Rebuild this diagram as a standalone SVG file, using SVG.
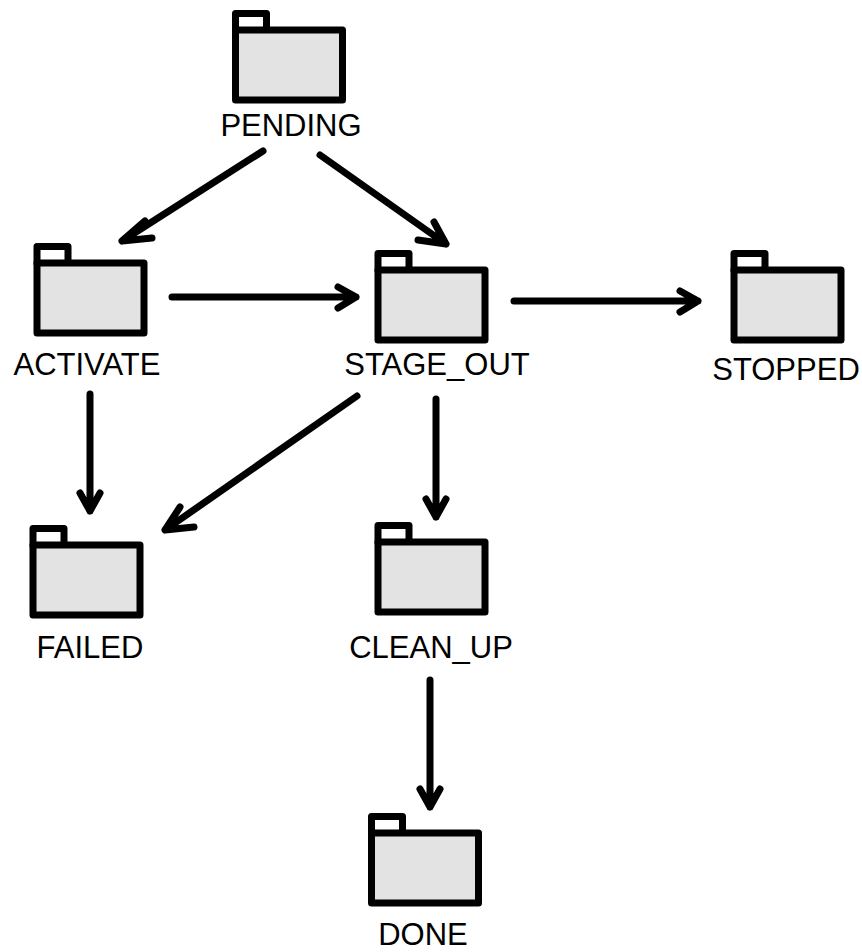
<svg xmlns="http://www.w3.org/2000/svg" width="862" height="952" viewBox="0 0 862 952">
<style>
.tab{fill:#fff;stroke:#000;stroke-width:7;stroke-linejoin:round}
.body{fill:#e3e3e3;stroke:#000;stroke-width:7;stroke-linejoin:round}
.lbl{font-family:"Liberation Sans",Arial,sans-serif;font-size:31px;fill:#000;text-anchor:middle}
.c{fill:none;stroke:#000;stroke-width:7;stroke-linecap:round;stroke-linejoin:round}
</style>
<defs>
<g id="folder">
<rect class="tab" x="3.5" y="3.5" width="31" height="17"/>
<rect class="body" x="3.5" y="20" width="107" height="70"/>
</g>
</defs>
<rect width="862" height="952" fill="#fff"/>
<g id="connectors">
<path class="c" d="M263 151L122 241M145 221L122 241L152 238"/>
<path class="c" d="M320 155L446 244M418 240L446 244L434 222"/>
<path class="c" d="M172 297L356 297M338 287L356 297L338 308"/>
<path class="c" d="M514 301L698 301M680 291L698 301L680 312"/>
<path class="c" d="M90 394L90 511M80 493L90 511L100 493"/>
<path class="c" d="M357 396L165 530M194 527L165 530L180 507"/>
<path class="c" d="M436 399L436 517M426 499L436 517L446 499"/>
<path class="c" d="M430 680L430 807M420 789L430 807L440 789"/>
</g>
<g id="PENDING"><use href="#folder" x="232" y="10"/><text class="lbl" x="291" y="136">PENDING</text></g>
<g id="ACTIVATE"><use href="#folder" x="33.5" y="243"/><text class="lbl" x="87" y="375">ACTIVATE</text></g>
<g id="STAGE_OUT"><use href="#folder" x="374.5" y="250"/><text class="lbl" x="437" y="375">STAGE_OUT</text></g>
<g id="STOPPED"><use href="#folder" x="730.5" y="250"/><text class="lbl" x="786" y="380">STOPPED</text></g>
<g id="FAILED"><use href="#folder" x="29.5" y="525"/><text class="lbl" x="90" y="658">FAILED</text></g>
<g id="CLEAN_UP"><use href="#folder" x="374.5" y="522"/><text class="lbl" x="431" y="658">CLEAN_UP</text></g>
<g id="DONE"><use href="#folder" x="368" y="813"/><text class="lbl" x="423" y="945">DONE</text></g>
</svg>
